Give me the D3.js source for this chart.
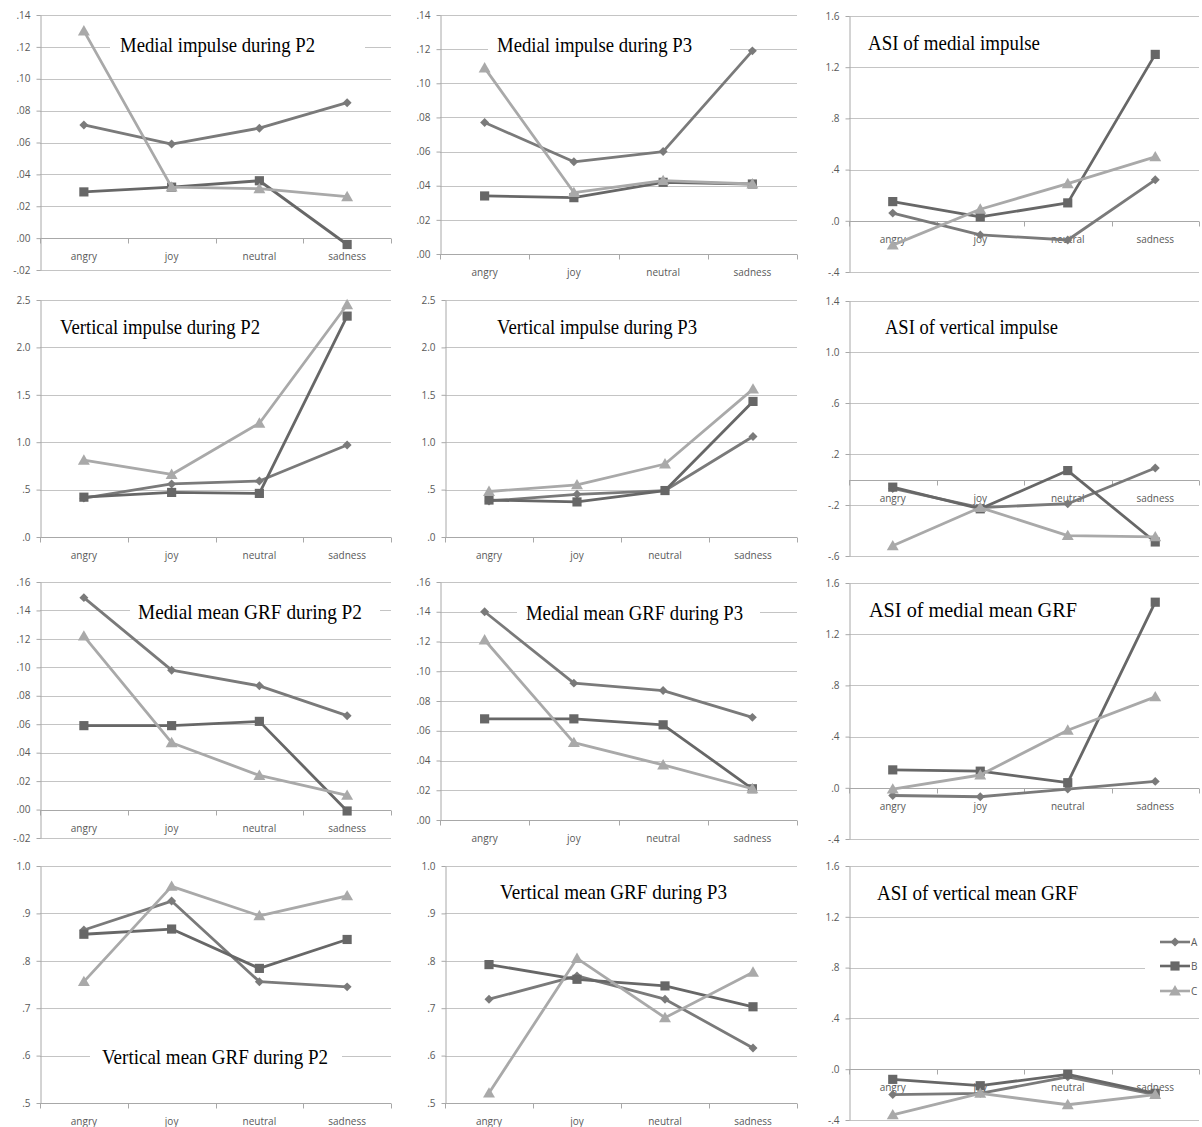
<!DOCTYPE html>
<html><head><meta charset="utf-8">
<script src="https://cdn.jsdelivr.net/npm/d3@7"></script>
<style>body{margin:0;background:#fff} svg{display:block}</style>
</head><body><div id="chart"></div>
<script>
// ---------- data ----------
const categories = ["angry", "joy", "neutral", "sadness"];
const seriesNames = ["A", "B", "C"];

// each array: [A, B, C] series, values per category
const medialImpulseP2   = [[0.071, 0.059, 0.069, 0.085], [0.029, 0.032, 0.036, -0.004], [0.130, 0.032, 0.031, 0.026]];
const medialImpulseP3   = [[0.077, 0.054, 0.060, 0.119], [0.034, 0.033, 0.042, 0.041], [0.109, 0.036, 0.043, 0.041]];
const asiMedialImpulse  = [[0.06, -0.11, -0.15, 0.32], [0.15, 0.03, 0.14, 1.30], [-0.19, 0.09, 0.29, 0.50]];
const verticalImpulseP2 = [[0.41, 0.56, 0.59, 0.97], [0.42, 0.47, 0.46, 2.33], [0.81, 0.66, 1.20, 2.45]];
const verticalImpulseP3 = [[0.38, 0.45, 0.49, 1.06], [0.39, 0.37, 0.49, 1.43], [0.48, 0.55, 0.77, 1.56]];
const asiVerticalImpulse = [[-0.07, -0.22, -0.19, 0.09], [-0.06, -0.23, 0.07, -0.49], [-0.52, -0.22, -0.44, -0.45]];
const medialMeanGrfP2   = [[0.149, 0.098, 0.087, 0.066], [0.059, 0.059, 0.062, -0.001], [0.122, 0.047, 0.024, 0.010]];
const medialMeanGrfP3   = [[0.140, 0.092, 0.087, 0.069], [0.068, 0.068, 0.064, 0.021], [0.121, 0.052, 0.037, 0.021]];
const asiMedialMeanGrf  = [[-0.06, -0.07, -0.01, 0.05], [0.14, 0.13, 0.04, 1.45], [-0.01, 0.10, 0.45, 0.71]];
const verticalMeanGrfP2 = [[0.865, 0.926, 0.756, 0.745], [0.856, 0.867, 0.784, 0.845], [0.756, 0.957, 0.895, 0.937]];
const verticalMeanGrfP3 = [[0.719, 0.768, 0.719, 0.616], [0.792, 0.761, 0.747, 0.703], [0.521, 0.805, 0.680, 0.776]];
const asiVerticalMeanGrf = [[-0.20, -0.19, -0.06, -0.20], [-0.08, -0.13, -0.04, -0.19], [-0.36, -0.19, -0.28, -0.20]];

// tick values
const ticksMedialNeg = [-0.02, 0, 0.02, 0.04, 0.06, 0.08, 0.10, 0.12, 0.14];
const ticksMedialPos = [0, 0.02, 0.04, 0.06, 0.08, 0.10, 0.12, 0.14];
const ticksMeanNeg   = [-0.02, 0, 0.02, 0.04, 0.06, 0.08, 0.10, 0.12, 0.14, 0.16];
const ticksMeanPos   = [0, 0.02, 0.04, 0.06, 0.08, 0.10, 0.12, 0.14, 0.16];
const ticksAsi       = [-0.4, 0, 0.4, 0.8, 1.2, 1.6];
const ticksAsiVert   = [-0.6, -0.2, 0.2, 0.6, 1.0, 1.4];
const ticksImpulse   = [0, 0.5, 1.0, 1.5, 2.0, 2.5];
const ticksVertMean  = [0.5, 0.6, 0.7, 0.8, 0.9, 1.0];

// ---------- styles / layout ----------
const seriesColors = ["#7a7a7a", "#676767", "#a9a9a9"];
const seriesShapes = ["diamond", "square", "triangle"];
const gridColor = "#c4c4c4";
const axisColor = "#a8a8a8";
const textColor = "#595959";

const panels = [
  {title: "Medial impulse during P2", values: medialImpulseP2, ticks: ticksMedialNeg, dec: 2, box: [40, 391, 15, 270], tc: [217.5, 45, 195], gap: [110, 365]},
  {title: "Medial impulse during P3", values: medialImpulseP3, ticks: ticksMedialPos, dec: 2, box: [440, 797, 15, 254], tc: [594.5, 45, 195], gap: [488, 730]},
  {title: "ASI of medial impulse", values: asiMedialImpulse, ticks: ticksAsi, dec: 1, box: [849, 1199, 16, 272], tc: [954, 43, 172]},
  {title: "Vertical impulse during P2", values: verticalImpulseP2, ticks: ticksImpulse, dec: 1, box: [40, 391, 300, 537], tc: [160, 327, 200]},
  {title: "Vertical impulse during P3", values: verticalImpulseP3, ticks: ticksImpulse, dec: 1, box: [445, 797, 300, 537], tc: [597, 327, 200]},
  {title: "ASI of vertical impulse", values: asiVerticalImpulse, ticks: ticksAsiVert, dec: 1, box: [849, 1199, 301, 556], tc: [971.5, 327, 173]},
  {title: "Medial mean GRF during P2", values: medialMeanGrfP2, ticks: ticksMeanNeg, dec: 2, box: [40, 391, 582, 838], tc: [250, 612, 224], gap: [130, 380]},
  {title: "Medial mean GRF during P3", values: medialMeanGrfP3, ticks: ticksMeanPos, dec: 2, box: [440, 797, 582, 820], tc: [634.5, 613, 217], gap: [517, 760]},
  {title: "ASI of medial mean GRF", values: asiMedialMeanGrf, ticks: ticksAsi, dec: 1, box: [849, 1199, 583, 839], tc: [973, 610, 208]},
  {title: "Vertical mean GRF during P2", values: verticalMeanGrfP2, ticks: ticksVertMean, dec: 1, box: [40, 391, 866, 1103], tc: [215, 1057, 226], gap: [90, 342]},
  {title: "Vertical mean GRF during P3", values: verticalMeanGrfP3, ticks: ticksVertMean, dec: 1, box: [445, 797, 866, 1103], tc: [613.5, 892, 227]},
  {title: "ASI of vertical mean GRF", values: asiVerticalMeanGrf, ticks: ticksAsi, dec: 1, box: [849, 1199, 866, 1120], tc: [977.5, 893, 201], legend: true}
];

const svg = d3.select("#chart").append("svg").attr("width", 1202).attr("height", 1127);

function fmt(dec) {
  return v => {
    const s = Math.abs(v).toFixed(dec).replace(/^0\./, ".");
    return (v < 0 ? "-" : "") + s;
  };
}

function drawMarker(g, shape, color, cx, cy) {
  let p;
  if (shape === "diamond") {
    p = g.append("path").attr("d", d3.symbol(d3.symbolSquare, 40)()).attr("transform", `translate(${cx},${cy}) rotate(45)`);
  } else if (shape === "square") {
    p = g.append("path").attr("d", d3.symbol(d3.symbolSquare, 84)()).attr("transform", `translate(${cx},${cy})`);
  } else {
    p = g.append("path").attr("d", d3.symbol(d3.symbolTriangle, 62)()).attr("transform", `translate(${cx},${cy + 1})`);
  }
  p.attr("fill", color);
}

panels.forEach(p => {
  const [x0, x1, y0, y1] = p.box;
  const x = d3.scaleBand().domain(categories).range([x0, x1]);
  const y = d3.scaleLinear().domain(d3.extent(p.ticks)).range([y1, y0]);
  const g = svg.append("g");
  const snap = v => Math.round(v) + 0.5;

  // gridlines
  g.selectAll("line.grid").data(p.ticks).join("line")
    .attr("x1", x0).attr("x2", x1)
    .attr("y1", d => snap(y(d))).attr("y2", d => snap(y(d)))
    .attr("stroke", gridColor).attr("stroke-width", 1);

  // y axis
  const yAxis = d3.axisLeft(y).tickValues(p.ticks).tickFormat(fmt(p.dec)).tickSizeInner(4).tickSizeOuter(0).tickPadding(6);
  const ya = g.append("g").attr("transform", `translate(${snap(x0)},0)`).call(yAxis);
  ya.select(".domain").attr("stroke", axisColor);
  ya.selectAll(".tick line").attr("stroke", axisColor);
  ya.selectAll(".tick text").attr("fill", textColor).style("font-family", "'Open Sans', sans-serif").style("font-size", "10px");

  // category axis at 0 (or minimum)
  const dom = y.domain();
  const baseVal = (dom[0] < 0 && dom[1] > 0) ? 0 : dom[0];
  const by = snap(y(baseVal));
  g.append("line").attr("x1", x0).attr("x2", x1).attr("y1", by).attr("y2", by).attr("stroke", axisColor);
  const bounds = categories.map(c => x(c)).concat([x1]);
  g.selectAll("line.ct").data(bounds).join("line")
    .attr("x1", d => snap(d)).attr("x2", d => snap(d)).attr("y1", by).attr("y2", by + 5)
    .attr("stroke", axisColor);
  g.selectAll("text.cat").data(categories).join("text")
    .attr("x", d => x(d) + x.bandwidth() / 2).attr("y", by + 21)
    .attr("text-anchor", "middle").attr("fill", textColor)
    .style("font-family", "'Open Sans', sans-serif").style("font-size", "10px")
    .text(d => d);

  // title background gap over gridline
  if (p.gap) {
    g.append("rect").attr("x", p.gap[0]).attr("y", p.tc[1] - 11).attr("width", p.gap[1] - p.gap[0]).attr("height", 22).attr("fill", "#fff");
  }

  // series
  const line = d3.line().x((d, i) => x(categories[i]) + x.bandwidth() / 2).y(d => y(d));
  p.values.forEach((vals, si) => {
    g.append("path").datum(vals).attr("d", line)
      .attr("fill", "none").attr("stroke", seriesColors[si]).attr("stroke-width", 2.8).attr("stroke-linejoin", "round");
    vals.forEach((v, i) => drawMarker(g, seriesShapes[si], seriesColors[si], x(categories[i]) + x.bandwidth() / 2, y(v)));
  });

  // title
  g.append("text").attr("x", p.tc[0]).attr("y", p.tc[1] + 7)
    .attr("text-anchor", "middle")
    .attr("textLength", p.tc[2]).attr("lengthAdjust", "spacingAndGlyphs")
    .style("font-family", "'Liberation Serif', 'Times New Roman', serif").style("font-size", "22px")
    .attr("fill", "#000")
    .text(p.title);

  // legend
  if (p.legend) {
    g.append("rect").attr("x", 1145).attr("y", 928).attr("width", 57).attr("height", 76).attr("fill", "#fff");
    const ly = [942, 966, 991];
    seriesNames.forEach((s, si) => {
      g.append("line").attr("x1", 1160).attr("x2", 1190).attr("y1", ly[si]).attr("y2", ly[si])
        .attr("stroke", seriesColors[si]).attr("stroke-width", 2.6);
      drawMarker(g, seriesShapes[si], seriesColors[si], 1175, ly[si]);
      g.append("text").attr("x", 1191).attr("y", ly[si] + 4).attr("fill", textColor)
        .style("font-family", "'Open Sans', sans-serif").style("font-size", "10px").text(s);
    });
  }
});
</script>
</body></html>
